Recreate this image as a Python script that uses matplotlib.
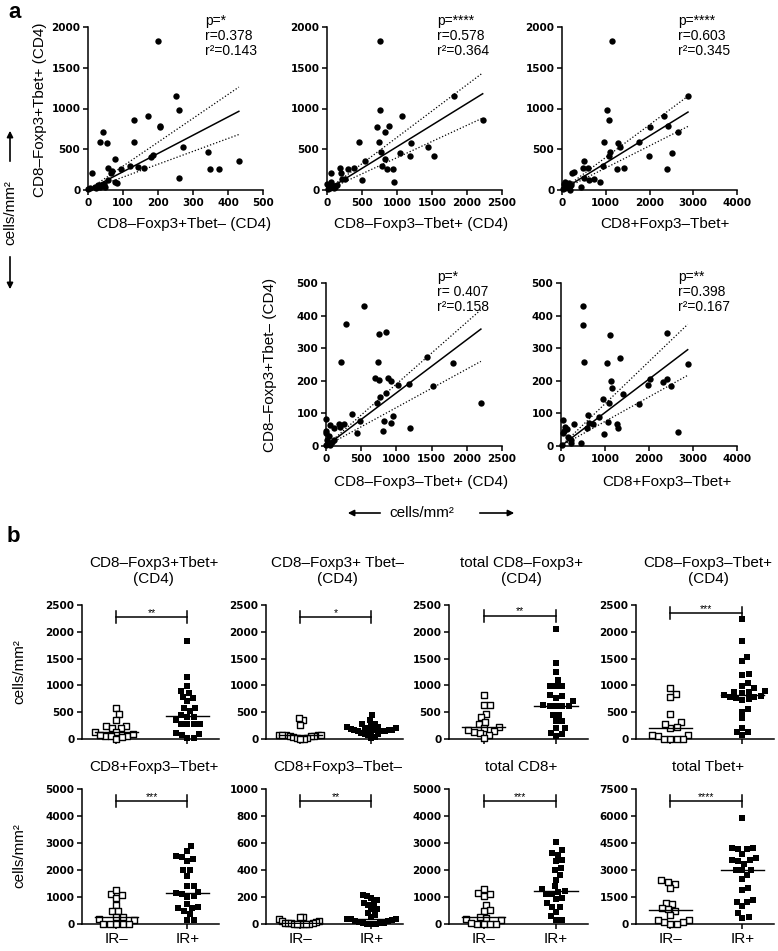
import numpy as np
import matplotlib
matplotlib.use("Agg")
import matplotlib.pyplot as plt
from matplotlib.patches import FancyArrowPatch

plt.rcParams['font.family'] = ['Liberation Sans', 'DejaVu Sans']

# ---------------- panel a data ----------------
a1_x = [200, 252, 259, 170, 207, 205, 130, 130, 43, 35, 54, 271, 343, 431, 348, 373, 259, 186, 181, 119,
        143, 160, 76, 57, 69, 65, 95, 10, 57, 76, 84, 46, 29, 19, 5, 0, 33, 48, 24, 38]
a1_y = [1829, 1151, 980, 906, 784, 770, 857, 584, 714, 584, 571, 531, 469, 359, 253, 257, 143, 429, 408, 298,
        286, 265, 375, 265, 233, 204, 257, 204, 122, 102, 82, 73, 61, 41, 20, 8, 41, 33, 20, 61]

a2_x = [762, 752, 1071, 714, 890, 833, 1814, 2224, 457, 738, 1205, 1443, 1529, 1190, 1038, 771, 548, 833, 786, 857,
        943, 962, 495, 381, 300, 190, 205, 214, 262, 62, 62, 0, 24, 71, 119, 143, 14, 48, 95]
a2_y = [1829, 980, 906, 776, 784, 714, 1151, 857, 584, 584, 571, 531, 420, 416, 449, 469, 359, 375, 294, 257,
        253, 102, 122, 265, 257, 273, 212, 131, 135, 212, 102, 73, 41, 61, 41, 61, 8, 20, 29]

a3_x = [1135, 1029, 1074, 2880, 2324, 2004, 2415, 2651, 968, 1272, 1333, 1760, 1105, 1067, 1981, 2514, 2400, 1410,
        1257, 937, 495, 472, 587, 229, 282, 510, 617, 724, 861, 434, 38, 61, 152, 206, 114, 23, 76, 168, 190]
a3_y = [1829, 980, 857, 1151, 906, 767, 784, 714, 584, 571, 531, 584, 469, 416, 416, 449, 253, 265,
        253, 298, 359, 265, 265, 212, 216, 143, 122, 135, 102, 41, 73, 102, 82, 61, 41, 8, 20, 29, 0]

a4_x = [538, 290, 757, 848, 210, 738, 700, 748, 881, 919, 1019, 1176, 1429, 1800, 1514, 2200, 848, 729, 767, 371,
        481, 824, 948, 929, 814, 1190, 443, 0, 0, 5, 38, 52, 110, 190, 252, 205, 14, 86, 119, 62, 5]
a4_y = [430, 374, 344, 349, 259, 259, 208, 203, 210, 198, 188, 190, 273, 254, 184, 133, 164, 131, 149, 97,
        77, 77, 92, 70, 46, 56, 39, 83, 46, 41, 31, 65, 54, 67, 68, 57, 18, 13, 18, 3, 3]

a5_x = [508, 508, 530, 1114, 1053, 1341, 2409, 2879, 1144, 1159, 1417, 2023, 1985, 2326, 2417, 2508, 962, 1091,
        1780, 871, 1061, 1265, 1288, 621, 644, 735, 598, 985, 2659, 288, 38, 38, 91, 144, 167, 227, 227, 455, 15, 76]
a5_y = [428, 370, 257, 341, 256, 269, 346, 251, 200, 179, 160, 206, 188, 195, 206, 184, 144, 131,
        129, 88, 75, 67, 54, 95, 72, 68, 54, 36, 44, 67, 80, 41, 59, 51, 27, 18, 10, 8, 3, 46]

# slopes of the fit through the origin and its 95% band (fit, lower, upper)
a1_fit = [2.24, 1.58, 2.93]
a2_fit = [0.531, 0.397, 0.646]
a3_fit = [0.332, 0.271, 0.400]
a4_fit = [0.163, 0.118, 0.190]
a5_fit = [0.1026, 0.0753, 0.1296]

a1_stats = ["p=*", "r=0.378", "r²=0.143"]
a2_stats = ["p=****", "r=0.578", "r²=0.364"]
a3_stats = ["p=****", "r=0.603", "r²=0.345"]
a4_stats = ["p=*", "r= 0.407", "r²=0.158"]
a5_stats = ["p=**", "r=0.398", "r²=0.167"]

# ---------------- panel b data ----------------
groups = ["IR–", "IR+"]
b1_neg = [578, 466, 361, 249, 249, 199, 199, 124, 137, 62, 62, 62, 75, 93, 0, 31]
b1_pos = [1822, 1150, 983, 852, 765, 790, 902, 703, 572, 572, 516, 448, 404, 404, 354, 280, 280, 280, 280,
          112, 75, 12, 12, 93]
b2_neg = [354, 386, 267, 75, 75, 75, 75, 75, 62, 62, 62, 31, 19, 12, 0, 0]
b2_pos = [454, 360, 280, 280, 250, 230, 220, 210, 200, 190, 180, 175, 170, 165, 160, 155, 150, 140, 130, 120,
          100, 90, 70, 40, 10]
b3_neg = [821, 640, 640, 466, 404, 280, 205, 323, 218, 155, 124, 174, 75, 112, 12]
b3_pos = [2052, 1418, 1244, 995, 995, 995, 1107, 796, 765, 821, 640, 622, 622, 622, 622, 715, 448, 342, 342,
          448, 199, 112, 50, 93, 199]
b4_neg = [958, 840, 777, 466, 311, 218, 205, 280, 75, 50, 75, 0, 0, 0, 0]
b4_pos = [2239, 1834, 1536, 1461, 1207, 1194, 1045, 983, 945, 889, 871, 871, 850, 820, 808, 790, 777, 760,
          740, 720, 560, 510, 386, 199, 137, 124, 75]
b5_neg = [1094, 970, 1057, 1269, 721, 498, 473, 249, 187, 274, 149, 0, 0, 0, 0, 0]
b5_pos = [2898, 2699, 2512, 2488, 2425, 2338, 2015, 1990, 1766, 1393, 1393, 1182, 1119, 1144, 995, 1020, 746,
          597, 597, 622, 473, 373, 149, 149]
b6_neg = [55, 37, 50, 25, 20, 15, 10, 8, 5, 5, 3, 2, 0, 0, 0, 0]
b6_pos = [204, 216, 194, 154, 144, 179, 149, 112, 112, 80, 55, 70, 37, 40, 35, 30, 25, 20, 15, 10, 5, 5, 0, 0, 0]
b7_neg = [1144, 1020, 1094, 1306, 721, 522, 498, 224, 187, 149, 274, 0, 0, 0, 0, 25]
b7_pos = [3035, 2637, 2550, 2363, 2736, 2326, 2090, 1990, 1828, 1642, 1393, 1306, 1182, 1119, 1119, 1219, 933,
          970, 771, 460, 622, 647, 311, 149, 149]
b8_neg = [2425, 2239, 2015, 2332, 1175, 1119, 746, 840, 877, 504, 224, 93, 0, 93, 224, 0]
b8_pos = [5877, 4198, 4142, 4198, 4142, 3881, 3508, 3545, 3545, 3694, 3358, 3022, 3022, 3022, 2743, 2519, 1903,
          1996, 1343, 1250, 1250, 1026, 597, 336, 373]

W, H = 778, 951
fig = plt.figure(figsize=(W / 100, H / 100), dpi=100)


def ftext(x, y, s, **kw):
    fig.text(x / W, 1 - y / H, s, **kw)


def add_ax(x0, y0, x1, y1):
    ax = fig.add_axes([x0 / W, 1 - y1 / H, (x1 - x0) / W, (y1 - y0) / H])
    ax.spines['top'].set_visible(False)
    ax.spines['right'].set_visible(False)
    ax.spines['left'].set_linewidth(1.1)
    ax.spines['bottom'].set_linewidth(1.1)
    ax.tick_params(direction='out', length=3.5, width=1.1, labelsize=7.5, pad=2)
    return ax


def tick_font(ax):
    for lab in ax.get_xticklabels() + ax.get_yticklabels():
        lab.set_fontfamily('DejaVu Sans')
        lab.set_fontweight('bold')


def scatter_panel(ax, x, y, fit, xmax, xstep, ymax, ystep, stats, tx):
    ax.scatter(x, y, s=21, color='black', linewidths=0, clip_on=False, zorder=3)
    xe = np.array([0, max(x)])
    ax.plot(xe, fit[0] * xe, color='black', lw=1.1)
    ax.plot(xe, fit[1] * xe, color='black', lw=0.9, ls=(0, (1, 1.6)))
    ax.plot(xe, fit[2] * xe, color='black', lw=0.9, ls=(0, (1, 1.6)))
    ax.set_xlim(0, xmax)
    ax.set_ylim(0, ymax)
    ax.set_xticks(np.arange(0, xmax + 1, xstep))
    ax.set_yticks(np.arange(0, ymax + 1, ystep))
    tick_font(ax)
    ax.text(tx, 1.08, "\n".join(stats), transform=ax.transAxes, ha='left', va='top',
            fontsize=10, linespacing=1.1)


a1 = add_ax(88, 27, 263, 190)
scatter_panel(a1, a1_x, a1_y, a1_fit, 500, 100, 2000, 500, a1_stats, 0.669)
a2 = add_ax(327, 27, 502, 190)
scatter_panel(a2, a2_x, a2_y, a2_fit, 2500, 500, 2000, 500, a2_stats, 0.629)
a3 = add_ax(562, 27, 737, 190)
scatter_panel(a3, a3_x, a3_y, a3_fit, 4000, 1000, 2000, 500, a3_stats, 0.663)
a4 = add_ax(326, 283, 502, 446)
scatter_panel(a4, a4_x, a4_y, a4_fit, 2500, 500, 500, 100, a4_stats, 0.63)
a5 = add_ax(561, 283, 737, 446)
scatter_panel(a5, a5_x, a5_y, a5_fit, 4000, 1000, 500, 100, a5_stats, 0.665)

lab = dict(fontsize=11, ha='center', va='center')
ftext(40, 110, "CD8–Foxp3+Tbet+ (CD4)", rotation=90, **lab)
ftext(270, 365, "CD8–Foxp3+Tbet– (CD4)", rotation=90, **lab)
ftext(184, 224, "CD8–Foxp3+Tbet– (CD4)", **lab)
ftext(421, 224, "CD8–Foxp3–Tbet+ (CD4)", **lab)
ftext(665, 224, "CD8+Foxp3–Tbet+", **lab)
ftext(421, 482, "CD8–Foxp3–Tbet+ (CD4)", **lab)
ftext(667, 482, "CD8+Foxp3–Tbet+", **lab)

# cells/mm2 with arrows
ftext(10, 213, "cells/mm²", rotation=90, **lab)
ftext(422, 513, "cells/mm²", **lab)


def arrow(x0, y0, x1, y1):
    fig.add_artist(FancyArrowPatch((x0 / W, 1 - y0 / H), (x1 / W, 1 - y1 / H),
                                   transform=fig.transFigure, arrowstyle='-|>',
                                   mutation_scale=9, lw=1.2, color='black'))


arrow(10, 164, 10, 128)
arrow(10, 254, 10, 292)
arrow(383, 513, 345, 513)
arrow(477, 513, 517, 513)

ftext(8, 18, "a", fontsize=16, fontweight='bold', ha='left', va='baseline')
ftext(7, 542, "b", fontsize=16, fontweight='bold', ha='left', va='baseline')

# ---------------- panel b ----------------
XL = (-0.48, 1.443)


def swarm(vals, ppu_y, ppu_x, d=6.4, half=0.33):
    ys = np.asarray(vals, float) * ppu_y
    xs = np.zeros(len(ys))
    placed = []
    for i in np.argsort(ys):
        y = ys[i]
        cands = [0.0]
        for px, py in placed:
            dy = y - py
            if abs(dy) < d:
                dx = np.sqrt(d * d - dy * dy)
                cands += [px + dx, px - dx]
        cands.sort(key=abs)
        for c in cands:
            if all((c - px) ** 2 + (y - py) ** 2 >= d * d - 1e-6 for px, py in placed):
                xs[i] = c
                break
        placed.append((xs[i], y))
    xs = xs / ppu_x
    widest = np.abs(xs).max()
    if widest > half:
        xs = xs * half / widest
    return xs


def dot_panel(box, neg, pos, ymax, ystep, stars, title, bottom, bracket_y=0.91):
    x0, y0, x1, y1 = box
    ax = add_ax(x0, y0, x1, y1)
    ppu_y = (y1 - y0) / ymax
    ppu_x = (x1 - x0) / (XL[1] - XL[0])
    for k, vals in enumerate([neg, pos]):
        if k == 0:
            off = swarm(vals, ppu_y, ppu_x, half=0.3)
            ax.scatter(k + off, vals, marker='s', s=20, facecolor='white', edgecolor='black',
                       linewidths=1.0, clip_on=False, zorder=3)
        else:
            off = swarm(vals, ppu_y, ppu_x, half=0.34)
            ax.scatter(k + off, vals, marker='s', s=25, color='black', linewidths=0,
                       clip_on=False, zorder=3)
        med = np.median(vals)
        ax.plot([k - 0.3, k + 0.3], [med, med], color='black', lw=1.0, zorder=4)
    ax.set_xlim(*XL)
    ax.set_ylim(0, ymax)
    ax.set_yticks(np.arange(0, ymax + 1, ystep))
    ax.set_xticks([0, 1])
    if bottom:
        ax.set_xticklabels(groups, fontsize=11)
    else:
        ax.set_xticklabels([])
    for lab_ in ax.get_yticklabels():
        lab_.set_fontfamily('DejaVu Sans')
        lab_.set_fontweight('bold')
    tr = ax.get_xaxis_transform()
    ax.plot([0, 1], [bracket_y, bracket_y], color='black', lw=1.1, transform=tr, clip_on=False)
    for xx in (0, 1):
        ax.plot([xx, xx], [bracket_y - 0.045, bracket_y + 0.045], color='black', lw=1.1,
                transform=tr, clip_on=False)
    ax.text(0.5, bracket_y + 0.01, stars, transform=tr, ha='center', va='baseline', fontsize=7.5)
    cx = (x0 + x1) / 2 + 3
    if bottom:
        ftext(cx, 767, title, fontsize=11, ha='center', va='center')
    else:
        ftext(cx, 571, title, fontsize=11, ha='center', va='center', linespacing=1.15)
    return ax


top = (605, 739)
bot = (789, 924)
dot_panel((82, top[0], 219, top[1]), b1_neg, b1_pos, 2500, 500, "**", "CD8–Foxp3+Tbet+\n(CD4)", False)
dot_panel((266, top[0], 403, top[1]), b2_neg, b2_pos, 2500, 500, "*", "CD8–Foxp3+ Tbet–\n(CD4)", False)
dot_panel((449, top[0], 588, top[1]), b3_neg, b3_pos, 2500, 500, "**", "total CD8–Foxp3+\n(CD4)", False, 0.92)
dot_panel((636, top[0], 774, top[1]), b4_neg, b4_pos, 2500, 500, "***", "CD8–Foxp3–Tbet+\n(CD4)", False, 0.94)
dot_panel((82, bot[0], 219, bot[1]), b5_neg, b5_pos, 5000, 1000, "***", "CD8+Foxp3–Tbet+", True)
dot_panel((266, bot[0], 403, bot[1]), b6_neg, b6_pos, 1000, 200, "**", "CD8+Foxp3–Tbet–", True)
dot_panel((449, bot[0], 588, bot[1]), b7_neg, b7_pos, 5000, 1000, "***", "total CD8+", True)
dot_panel((636, bot[0], 774, bot[1]), b8_neg, b8_pos, 7500, 1500, "****", "total Tbet+", True)

ftext(19, 672, "cells/mm²", rotation=90, **lab)
ftext(19, 856, "cells/mm²", rotation=90, **lab)

fig.savefig("out.png", dpi=100)
